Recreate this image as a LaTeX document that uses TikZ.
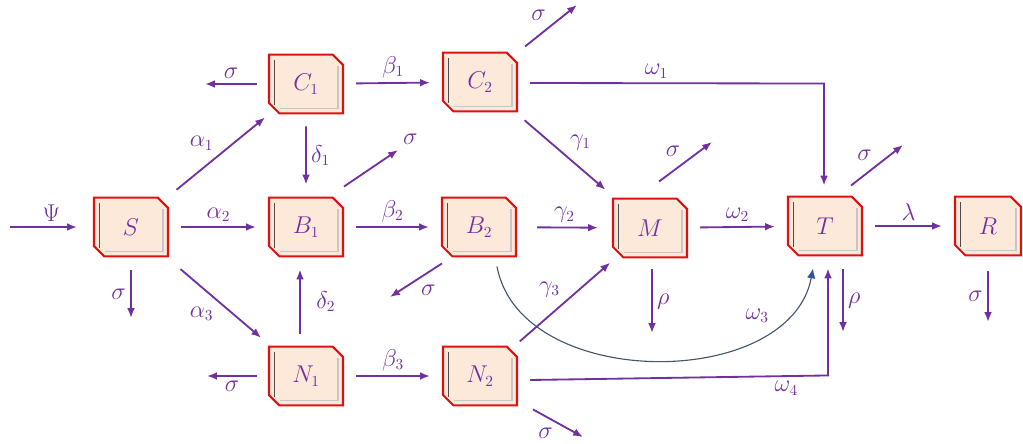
\documentclass[tikz,border=0pt]{standalone}
\usepackage{amsmath}
\usetikzlibrary{shapes.misc,calc,arrows.meta,positioning}
\definecolor{flowpurple}{HTML}{7030A0}
\definecolor{boxred}{HTML}{E01010}
\definecolor{boxfill}{HTML}{FCE9DA}
\definecolor{curvegray}{HTML}{44546A}
\definecolor{tipblue}{HTML}{2F5597}

\begin{document}
\begin{tikzpicture}[x=0.025cm, y=-0.025cm,
        font=\fontsize{16}{18}\selectfont,
        compartment/.style={chamfered rectangle, chamfered rectangle corners={north east,south west},
            chamfered rectangle xsep=0.13cm, chamfered rectangle ysep=0.13cm,
            draw=boxred, line width=1.5pt, fill=boxfill,
            minimum width=1.85cm, minimum height=1.47cm, inner sep=0pt, text=flowpurple,
            path picture={
                \draw[gray!60!black, line width=1.2pt]
                    ([xshift=4pt,yshift=-4pt]path picture bounding box.north west) --
                    ([xshift=4pt,yshift=6pt]path picture bounding box.south west);
                \draw[gray!45, line width=0.9pt]
                    ([xshift=8pt,yshift=3.5pt]path picture bounding box.south west) --
                    ([xshift=-3.5pt,yshift=3.5pt]path picture bounding box.south east) --
                    ([xshift=-3.5pt,yshift=-8pt]path picture bounding box.north east);
            }},
        flow/.style={draw=flowpurple, line width=1.3pt, -{Latex[length=7pt,width=5.5pt]},
            shorten <=0.3cm, shorten >=0.3cm},
        free/.style={shorten <=0pt, shorten >=0pt},
        lbl/.style={text=flowpurple, inner sep=3pt}]

        \useasboundingbox (0,0) rectangle (1023,444);

        % compartments
        \node[compartment] (S) at (131,227) {$S$};
        \node[compartment] (C1) at (306,84) {$C_1$};
        \node[compartment] (C2) at (480,82) {$C_2$};
        \node[compartment] (B1) at (306,227) {$B_1$};
        \node[compartment] (B2) at (479,227) {$B_2$};
        \node[compartment] (N1) at (306,376) {$N_1$};
        \node[compartment] (N2) at (480,376) {$N_2$};
        \node[compartment] (M) at (650,228) {$M$};
        \node[compartment] (T) at (825,226) {$T$};
        \node[compartment, minimum width=1.65cm] (R) at (988,226) {$R$};

        % free ends
        \coordinate (in) at (10,227);
        \coordinate (sS) at (131,318);
        \coordinate (sC1) at (205,84);
        \coordinate (sC2) at (577,5);
        \coordinate (sB1) at (398,150);
        \coordinate (sB2) at (390,297);
        \coordinate (sN1) at (207,376);
        \coordinate (sN2) at (583,437);
        \coordinate (sM) at (712,142);
        \coordinate (rM) at (652,333);
        \coordinate (sT) at (903,145);
        \coordinate (rT) at (843,332);
        \coordinate (sR) at (988,322);

        % recruitment
        \draw[flow, shorten <=0pt, shorten >=0.4cm] (in) -- node[lbl, above] {$\Psi$} (S);

        % transfers
        \draw[flow] (S) -- node[lbl, above] {$\alpha_2$} (B1);
        \draw[flow, shorten <=0.45cm] (S) -- node[lbl, above left] {$\alpha_1$} (C1);
        \draw[flow, shorten <=0.45cm] (S) -- node[lbl, below left] {$\alpha_3$} (N1);
        \draw[flow] (C1) -- node[lbl, above] {$\beta_1$} (C2);
        \draw[flow] (C1) -- node[lbl, right] {$\delta_1$} (B1);
        \draw[flow] (B1) -- node[lbl, above] {$\beta_2$} (B2);
        \draw[flow] ($(N1.north)+(-6,0)$) -- node[lbl, right, xshift=8pt] {$\delta_2$} ($(B1.south)+(-6,0)$);
        \draw[flow] (N1) -- node[lbl, above] {$\beta_3$} (N2);
        \draw[flow] (N2) -- node[lbl, above left] {$\gamma_3$} (M);
        \draw[flow, shorten >=0.35cm, shorten <=0.5cm] (B2) -- node[lbl, above] {$\gamma_2$} (M);
        \draw[flow] (C2) -- node[lbl, above right] {$\gamma_1$} (M);
        \draw[flow] (M) -- node[lbl, above] {$\omega_2$} (T);
        \draw[flow] (T) -- node[lbl, above] {$\lambda$} (R);
        \draw[flow, free] ($(C2.east)+(12,1)$) -- node[lbl, above, pos=0.43] {$\omega_1$}
            ($(T.north)+(-1,-112)$) -- ($(T.north)+(-1,-10)$);
        \draw[flow, free] ($(N2.east)+(12,4)$) -- node[lbl, below, pos=0.86] {$\omega_4$}
            ($(T.south)+(3,119)$) -- ($(T.south)+(3,12)$);
        \draw[curvegray, line width=0.8pt, -{Latex[length=7pt,width=6pt,color=tipblue]}]
            ($(B2.south)+(18,9)$) .. controls +(23,125) and +(-23,123) .. node[lbl, pos=0.8, above left] {$\omega_3$}
            ($(T.south)+(-12,12)$);

        % removals
        \draw[flow, free] ($(S.south)+(0,13)$) -- node[lbl, left] {$\sigma$} (sS);
        \draw[flow, free] ($(C1.west)+(-11,0)$) -- node[lbl, above] {$\sigma$} (sC1);
        \draw[flow, free] ($(C2.north)+(45,-5)$) -- node[lbl, above left] {$\sigma$} (sC2);
        \draw[flow, free] ($(B1.north)+(38,-10)$) -- node[lbl, pos=1, above right] {$\sigma$} (sB1);
        \draw[flow, free] ($(B2.south)+(-37,6)$) -- node[lbl, below right] {$\sigma$} (sB2);
        \draw[flow, free] ($(N1.west)+(-11,0)$) -- node[lbl, below] {$\sigma$} (sN1);
        \draw[flow, free] ($(N2.south)+(53,3)$) -- node[lbl, below left] {$\sigma$} (sN2);
        \draw[flow, free] ($(M.north)+(9,-16)$) -- node[lbl, above left] {$\sigma$} (sM);
        \draw[flow, free] ($(M.south)+(2,11)$) -- node[lbl, right] {$\rho$} (rM);
        \draw[flow, free] ($(T.north)+(26,-10)$) -- node[lbl, above left] {$\sigma$} (sT);
        \draw[flow, free] ($(T.south)+(18,13)$) -- node[lbl, right] {$\rho$} (rT);
        \draw[flow, free] ($(R.south)+(0,15)$) -- node[lbl, left] {$\sigma$} (sR);
    \end{tikzpicture}
\end{document}
